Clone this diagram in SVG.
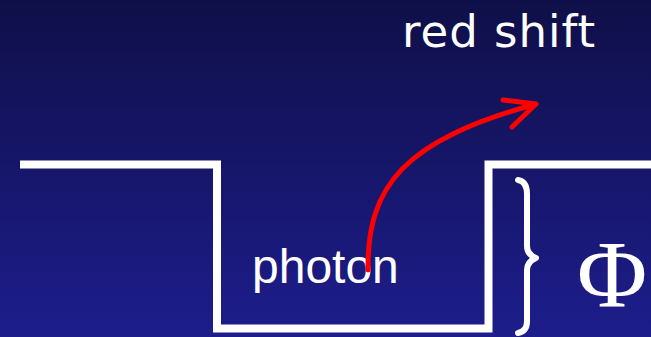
<svg xmlns="http://www.w3.org/2000/svg" width="651" height="337" viewBox="0 0 651 337">
<defs>
<linearGradient id="bg" x1="0" y1="0" x2="0" y2="1">
<stop offset="0" stop-color="#0f0f48"/>
<stop offset="1" stop-color="#1d1d8c"/>
</linearGradient>
<style>
.wall{fill:none;stroke:#ffffff;stroke-width:8;stroke-linecap:butt;stroke-linejoin:miter}
.red{fill:none;stroke:#ff0000;stroke-width:5;stroke-linecap:round;stroke-linejoin:round}
.lbl{fill:#ffffff;font-family:"Liberation Sans",Arial,sans-serif}
</style>
</defs>
<rect x="0" y="0" width="651" height="337" fill="url(#bg)"/>
<g id="well">
<path class="wall" d="M20,164.5 H217 V328.5 H488.5 V164.5 H651"/>
</g>
<g id="brace">
<path d="M518,180 C524,181 527,186 527,194 V246 C527,252 531,256 536,258 C531,260 527,264 527,270 V321 C527,328 524,332 518,333" fill="none" stroke="#ffffff" stroke-width="6" stroke-linecap="round" stroke-linejoin="round"/>
</g>
<g id="labels">
<text class="lbl" x="402" y="47" style="font-family:'DejaVu Sans',Verdana,sans-serif;font-size:45px;letter-spacing:1px">red shift</text>
<text class="lbl" x="252" y="283" font-size="48">photon</text>
<text class="lbl" x="577" y="307" style="font-family:'Liberation Serif','Times New Roman',serif;font-size:96px">Φ</text>
</g>
<g id="connectors">
<path class="red" d="M368,270 C367,185 405,140 536,104"/>
<path class="red" d="M503,100 L536,104 L512,127"/>
</g>
</svg>
